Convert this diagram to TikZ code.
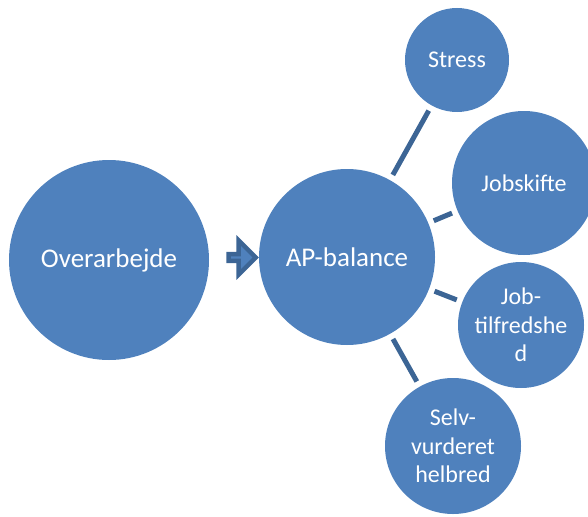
\documentclass[tikz,border=0pt]{standalone}
\usepackage{fontspec}
\setmainfont{Carlito}
\usepackage{tikz}
\usetikzlibrary{shapes.arrows}
\definecolor{bubble}{HTML}{4F81BD}
\definecolor{bubbleline}{HTML}{3C6595}

\begin{document}
\begin{tikzpicture}[x=1pt,y=-1pt,
  bubble/.style={circle, fill=bubble, text=white, align=center,
    inner sep=0pt, outer sep=0pt},
  big/.style={bubble, font=\fontsize{27}{32}\selectfont},
  small/.style={bubble, font=\fontsize{24}{28.5}\selectfont},
  link/.style={draw=bubbleline, line width=5pt, shorten >=6pt, shorten <=6pt}]
  \useasboundingbox (0,0) rectangle (588,516);
  \clip (0,0) rectangle (588,516);
  \node[big, minimum size=200pt] (overarbejde) at (109,260) {Overarbejde};
  \node[big, minimum size=176pt] (ap) at (347,257) {AP-balance};
  \node[single arrow, fill=bubble, draw=bubbleline, line width=4.5pt,
    inner sep=0pt, minimum height=27pt, minimum width=34pt,
    single arrow head extend=9pt] (push) at (240.5,257.5) {};
  % satellites
  \node[small, minimum size=104pt] (stress) at (457,60) {Stress};
  \node[small, minimum size=144pt] (jobskifte) at (524,183) {Jobskifte};
  \node[small, minimum size=126pt] (tilfreds) at (521,325) {Job-\\tilfredshe\\d};
  \node[small, minimum size=136pt] (selv) at (453,446) {Selv-\\vurderet\\helbred};
  \draw[link] (ap) -- (stress);
  \draw[link] (ap) -- (jobskifte);
  \draw[link] (ap) -- (tilfreds);
  \draw[link] (ap) -- (selv);
\end{tikzpicture}
\end{document}
